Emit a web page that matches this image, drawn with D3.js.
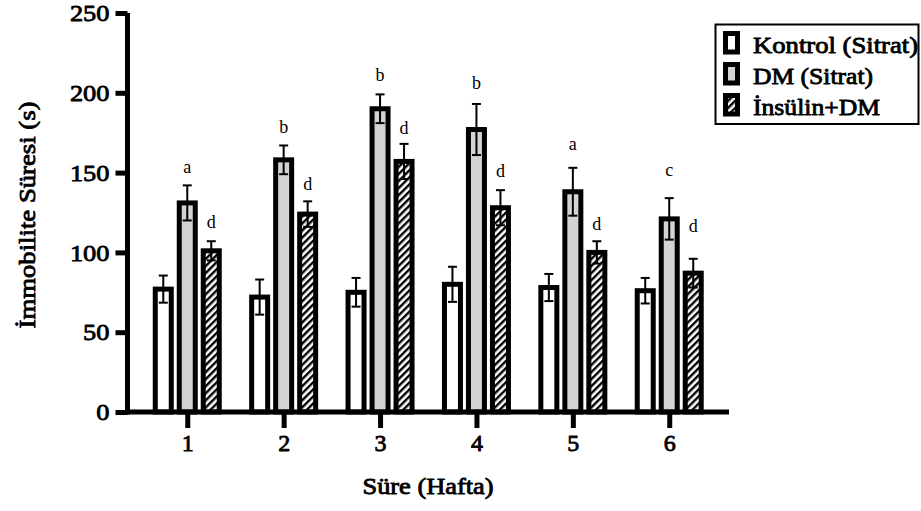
<!DOCTYPE html>
<html>
<head>
<meta charset="utf-8">
<script src="https://cdn.jsdelivr.net/npm/d3@7"></script>
<style>
  html, body { margin: 0; padding: 0; background: #fff; }
  svg { display: block; }
</style>
</head>
<body>
<svg id="chart" width="921" height="511"></svg>
<script>
// ---- data ----
const weeks = ["1", "2", "3", "4", "5", "6"];
const seriesNames = ["Kontrol (Sitrat)", "DM (Sitrat)", "İnsülin+DM"];
const kontrolMean = [77, 72, 75, 80, 78, 76];
const kontrolSE   = [8.5, 11, 9, 11, 8.5, 8];
const dmMean      = [131, 158, 190, 177, 138, 121];
const dmSE        = [11, 9, 9, 16, 15, 13];
const insulinMean = [101, 124, 157, 128, 100, 87];
const insulinSE   = [6, 8, 11, 11, 7, 9];
const dmLetters      = ["a", "b", "b", "b", "a", "c"];
const dmLetterAt     = [150, 175, 207.5, 202.5, 164, 148];
const insulinLetters = ["d", "d", "d", "d", "d", "d"];
const insulinLetterAt = [115, 139, 174, 147, 114, 113];
const yTicks = [0, 50, 100, 150, 200, 250];
const yTitle = "İmmobilite Süresi (s)";
const xTitle = "Süre (Hafta)";

const means = [kontrolMean, dmMean, insulinMean];
const ses = [kontrolSE, dmSE, insulinSE];

const svg = d3.select("#chart");
const FONT = "Liberation Serif, Times New Roman, serif";

// faux-bold serif text helper
function boldify(sel, size) {
  sel.attr("font-family", FONT).attr("font-size", size).attr("font-weight", "normal")
    .attr("fill", "#000").attr("stroke", "#000").attr("stroke-width", 0.85)
    .attr("stroke-linejoin", "round");
}
function stretch(sel, factor) {
  sel.each(function() {
    const L = this.getComputedTextLength();
    d3.select(this).attr("textLength", L * factor).attr("lengthAdjust", "spacingAndGlyphs");
  });
}

// hatch pattern
const defs = svg.append("defs");
const pat = defs.append("pattern")
  .attr("id", "hatch").attr("patternUnits", "userSpaceOnUse")
  .attr("width", 5).attr("height", 5)
  .attr("patternTransform", "rotate(45)");
pat.append("rect").attr("width", 5).attr("height", 5).attr("fill", "#fff");
pat.append("rect").attr("x", 0).attr("width", 2.4).attr("height", 5).attr("fill", "#000");

const fills = ["#ffffff", "#d3d3d3", "url(#hatch)"];

// scales
const axisLeftX = 127.5, axisRightX = 729;
const y = d3.scaleLinear().domain([0, 250]).range([412, 13]);
const x0 = d3.scalePoint().domain(weeks).range([axisLeftX, axisRightX]).padding(0.62);
const x1 = d3.scaleBand().domain(d3.range(3)).range([-36, 36]);

const barW = 16, stroke = 5;

// bars
const groups = svg.append("g").selectAll("g").data(weeks).join("g")
  .attr("transform", d => `translate(${x0(d)},0)`);

groups.each(function(w, gi) {
  const g = d3.select(this);
  for (let s = 0; s < 3; s++) {
    const cx = x1(s) + x1.bandwidth() / 2;
    const m = means[s][gi], e = ses[s][gi];
    g.append("rect")
      .attr("x", cx - barW / 2).attr("width", barW)
      .attr("y", y(m)).attr("height", y(0) - y(m))
      .attr("fill", fills[s]).attr("stroke", "#000").attr("stroke-width", stroke);
    const eb = g.append("g").attr("stroke", "#000").attr("stroke-width", 2);
    eb.append("line").attr("x1", cx).attr("x2", cx).attr("y1", y(m - e)).attr("y2", y(m + e));
    eb.append("line").attr("x1", cx - 4.5).attr("x2", cx + 4.5).attr("y1", y(m + e)).attr("y2", y(m + e));
    eb.append("line").attr("x1", cx - 4.5).attr("x2", cx + 4.5).attr("y1", y(m - e)).attr("y2", y(m - e));
  }
  const cxDM = x1(1) + x1.bandwidth() / 2;
  const cxIn = x1(2) + x1.bandwidth() / 2;
  g.append("text").attr("x", cxDM).attr("y", y(dmLetterAt[gi]))
    .attr("text-anchor", "middle").attr("font-family", FONT).attr("font-size", 18)
    .text(dmLetters[gi]);
  g.append("text").attr("x", cxIn).attr("y", y(insulinLetterAt[gi]))
    .attr("text-anchor", "middle").attr("font-family", FONT).attr("font-size", 18)
    .text(insulinLetters[gi]);
});

// y axis
const yAxis = svg.append("g").attr("transform", `translate(${axisLeftX},0)`)
  .call(d3.axisLeft(y).tickValues(yTicks).tickSize(12).tickPadding(6).tickFormat(d3.format("d")));
yAxis.select(".domain").attr("d", `M0,${y(250)}V${y(0) + 2.5}`).attr("stroke", "#000").attr("stroke-width", 5).attr("fill", "none");
yAxis.selectAll(".tick line").attr("stroke", "#000").attr("stroke-width", 5);
yAxis.selectAll(".tick text").call(boldify, 24).call(stretch, 1.1);

// x axis
const xAxis = svg.append("g").attr("transform", `translate(0,${y(0)})`)
  .call(d3.axisBottom(x0).tickSize(16).tickPadding(6));
xAxis.select(".domain").attr("d", `M${axisLeftX - 2.5},0H${axisRightX}`).attr("stroke", "#000").attr("stroke-width", 5).attr("fill", "none");
xAxis.selectAll(".tick line").attr("stroke", "#000").attr("stroke-width", 5);
xAxis.selectAll(".tick text").call(boldify, 24);

// titles
svg.append("text").attr("transform", "translate(35,215) rotate(-90)")
  .attr("text-anchor", "middle").call(boldify, 24)
  .attr("textLength", 227).attr("lengthAdjust", "spacingAndGlyphs")
  .text(yTitle);
svg.append("text").attr("x", 428).attr("y", 494)
  .attr("text-anchor", "middle").call(boldify, 24)
  .attr("textLength", 131).attr("lengthAdjust", "spacingAndGlyphs")
  .text(xTitle);

// legend
const legendWidths = [165, 120, 127];
const lg = svg.append("g");
lg.append("rect").attr("x", 715.5).attr("y", 24.5).attr("width", 203).attr("height", 99.5)
  .attr("fill", "#fff").attr("stroke", "#000").attr("stroke-width", 2);
seriesNames.forEach((name, i) => {
  const top = 31 + i * 31;
  lg.append("rect").attr("x", 725.5).attr("y", top + 2.5).attr("width", 12).attr("height", 18.5)
    .attr("fill", fills[i]).attr("stroke", "#000").attr("stroke-width", 5);
  lg.append("text").attr("x", 753).attr("y", top + 22).call(boldify, 24)
    .attr("textLength", legendWidths[i]).attr("lengthAdjust", "spacingAndGlyphs")
    .text(name);
});
</script>
</body>
</html>
